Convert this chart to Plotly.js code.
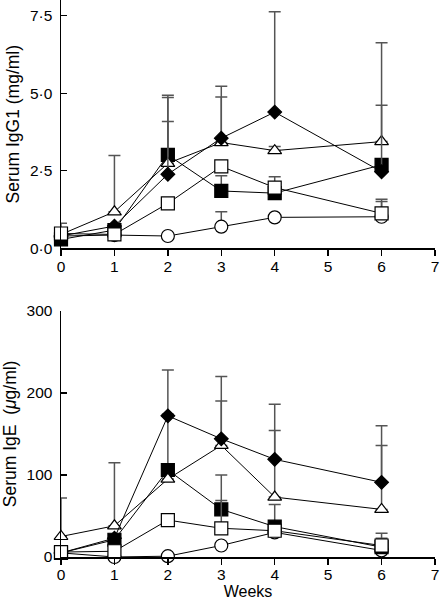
<!DOCTYPE html>
<html>
<head>
<meta charset="utf-8">
<script src="https://cdn.plot.ly/plotly-3.0.1.min.js"></script>
<style>html,body{margin:0;padding:0;background:#fff;}#chart{width:440px;height:602px;}</style>
</head>
<body>
<div id="chart"></div>
<script>
// Weeks
var weeks = [0, 1, 2, 3, 4, 6];

// Serum IgG1 (mg/ml)
var igg1Circle = [0.40, 0.43, 0.40, 0.70, 1.00, 1.02];
var igg1CircleErr = [0, 0, 0, 0.48, 0, 0.49];
var igg1OpenSquare = [0.48, 0.45, 1.45, 2.64, 1.96, 1.13];
var igg1OpenSquareErr = [0.33, 0, 0, 0, 0.35, 0.45];
var igg1FilledSquare = [0.29, 0.59, 3.01, 1.85, 1.78, 2.69];
var igg1FilledSquareErr = [0, 0, 1.92, 0.49, 0, 0];
var igg1Triangle = [0.45, 1.18, 2.74, 3.41, 3.15, 3.44];
var igg1TriangleErr = [0, 1.81, 2.12, 1.81, 0.13, 3.18];
var igg1Diamond = [0.40, 0.72, 2.39, 3.55, 4.39, 2.47];
var igg1DiamondErr = [0, 0, 1.70, 1.33, 3.23, 2.14];

// Serum IgE (ug/ml)
var igeCircle = [5, 0, 1, 14, 30, 8];
var igeCircleErr = [0, 0, 0, 0, 0, 0];
var igeOpenSquare = [6, 7, 45, 35, 32, 14];
var igeOpenSquareErr = [0, 0, 0, 34, 0, 9];
var igeFilledSquare = [5, 21, 106, 58, 37, 12];
var igeFilledSquareErr = [0, 0, 68, 42, 27, 17];
var igeTriangle = [25, 38, 95, 136, 73, 58];
var igeTriangleErr = [47, 77, 0, 54, 81, 78];
var igeDiamond = [5, 23, 172, 144, 119, 91];
var igeDiamondErr = [0, 0, 56, 76, 67, 69];

// Tick labels
var xTickVals = [0, 1, 2, 3, 4, 5, 6, 7];
var igg1TickVals = [0, 2.5, 5, 7.5];
var igg1TickText = ['0·0', '2·5', '5·0', '7·5'];
var igeTickVals = [0, 100, 200, 300];
var igeTickText = ['0', '100', '200', '300'];

var styles = {
  circle: {symbol: 'circle', color: '#fff', size: 13},
  openSquare: {symbol: 'square', color: '#fff', size: 13},
  filledSquare: {symbol: 'square', color: '#000', size: 13},
  triangle: {symbol: 'triangle-up', color: '#fff', size: 12},
  diamond: {symbol: 'diamond', color: '#000', size: 10.5}
};

function mk(y, err, st, xa, ya) {
  var zeros = err.map(function(){return 0;});
  return {
    x: weeks, y: y, xaxis: xa, yaxis: ya,
    type: 'scatter', mode: 'lines+markers', cliponaxis: false,
    line: {color: '#000', width: 1},
    marker: {symbol: st.symbol, color: st.color, size: st.size,
             line: {color: '#000', width: 1.2}},
    error_y: {type: 'data', symmetric: false, array: err, arrayminus: zeros,
              color: '#555', thickness: 1.5, width: 6},
    showlegend: false, hoverinfo: 'none'
  };
}

var data = [
  mk(igg1Circle, igg1CircleErr, styles.circle, 'x', 'y'),
  mk(igg1FilledSquare, igg1FilledSquareErr, styles.filledSquare, 'x', 'y'),
  mk(igg1Triangle, igg1TriangleErr, styles.triangle, 'x', 'y'),
  mk(igg1Diamond, igg1DiamondErr, styles.diamond, 'x', 'y'),
  mk(igg1OpenSquare, igg1OpenSquareErr, styles.openSquare, 'x', 'y'),
  mk(igeCircle, igeCircleErr, styles.circle, 'x2', 'y2'),
  mk(igeFilledSquare, igeFilledSquareErr, styles.filledSquare, 'x2', 'y2'),
  mk(igeTriangle, igeTriangleErr, styles.triangle, 'x2', 'y2'),
  mk(igeDiamond, igeDiamondErr, styles.diamond, 'x2', 'y2'),
  mk(igeOpenSquare, igeOpenSquareErr, styles.openSquare, 'x2', 'y2')
];

var fontFam = 'Liberation Sans, Arial, Helvetica, sans-serif';
function xax(anchor, title) {
  var a = {
    anchor: anchor, range: [0, 7], tickvals: xTickVals, ticks: 'outside', ticklen: 6,
    tickwidth: 1.3, tickcolor: '#000', showline: true, linecolor: '#000', linewidth: 1.5,
    showgrid: false, zeroline: false, ticklabelstandoff: -3,
    tickfont: {family: fontFam, size: 15.5, color: '#000'}
  };
  if (title) a.title = {text: title, font: {family: fontFam, size: 16, color: '#000'}, standoff: 0};
  return a;
}
function yax(anchor, domain, range, tv, tt, title) {
  return {
    anchor: anchor, domain: domain, range: range, tickvals: tv, ticktext: tt,
    ticks: 'inside', ticklen: 6, tickwidth: 1.3, tickcolor: '#000',
    showline: true, linecolor: '#000', linewidth: 1.5, showgrid: false, zeroline: false,
    ticklabelstandoff: 4,
    tickfont: {family: fontFam, size: 15.5, color: '#000'},
    title: {text: title, font: {family: fontFam, size: 17.5, color: '#000'}, standoff: 6}
  };
}

var layout = {
  width: 440, height: 602,
  margin: {l: 61, r: 5, t: 0, b: 45},
  paper_bgcolor: '#fff', plot_bgcolor: '#fff',
  font: {family: fontFam, color: '#000'},
  xaxis: xax('y', null),
  yaxis: yax('x', [0.554, 1], [0, 8], igg1TickVals, igg1TickText, 'Serum IgG1 (mg/ml)'),
  xaxis2: xax('y2', 'Weeks'),
  yaxis2: yax('x2', [0, 0.442], [0, 300], igeTickVals, igeTickText, 'Serum IgE  (<i>μ</i>g/ml)')
};

Plotly.newPlot('chart', data, layout, {displayModeBar: false, staticPlot: true});
</script>
</body>
</html>
